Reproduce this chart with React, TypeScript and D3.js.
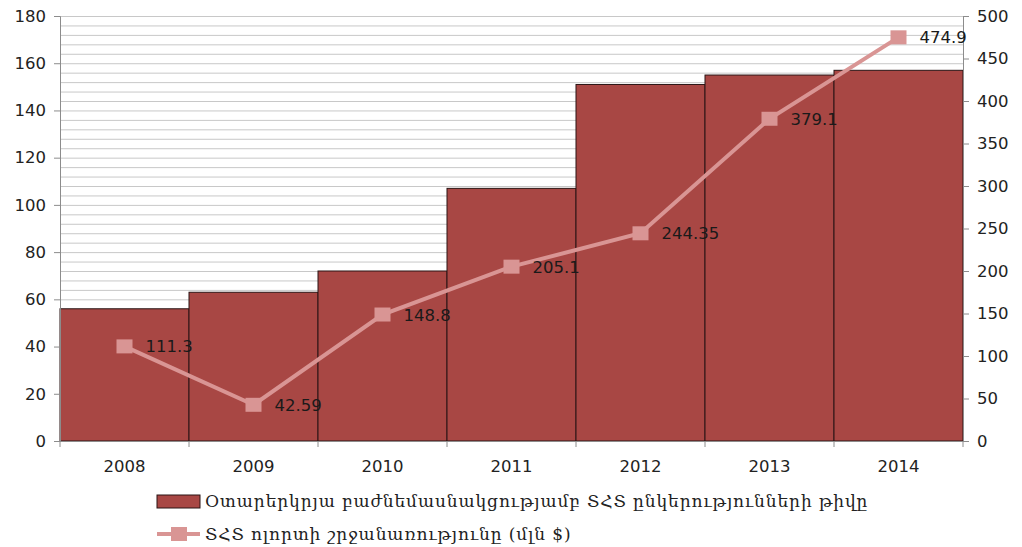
import React, { useRef, useEffect } from 'react';
import * as d3 from 'd3';

const years = ['2008', '2009', '2010', '2011', '2012', '2013', '2014'];
const companies = [56, 63, 72, 107, 151, 155, 157];
const turnover = [111.3, 42.59, 148.8, 205.1, 244.35, 379.1, 474.9];
const turnoverLabels = ['111.3', '42.59', '148.8', '205.1', '244.35', '379.1', '474.9'];
const leftTicks = [0, 20, 40, 60, 80, 100, 120, 140, 160, 180];
const rightTicks = [0, 50, 100, 150, 200, 250, 300, 350, 400, 450, 500];
const legendBar = 'Օտարերկրյա բաժնեմասնակցությամբ ՏՀՏ ընկերությունների թիվը';
const legendLine = 'ՏՀՏ ոլորտի շրջանառությունը (մլն $)';

const W = 1022, H = 547;
const BAR = '#A84744';
const LINE = '#D99594';

export default function App() {
  const ref = useRef<SVGSVGElement>(null);

  useEffect(() => {
    if (!ref.current) return;
    const svg = d3.select(ref.current);
    svg.selectAll('*').remove();

    const left = 60, right = 963, top = 16, bottom = 441;
    const x = d3.scaleBand().domain(years).range([left, right]).padding(0);
    const y = d3.scaleLinear().domain([0, 180]).range([bottom, top]);
    const y2 = d3.scaleLinear().domain([0, 500]).range([bottom, top]);
    const font = '"DejaVu Sans", Verdana, sans-serif';

    // gridlines every 4
    const grid = d3.range(4, 181, 4);
    svg.append('g').selectAll('line').data(grid).join('line')
      .attr('x1', left).attr('x2', right)
      .attr('y1', d => y(d) + 0.5).attr('y2', d => y(d) + 0.5)
      .attr('stroke', '#c8c8c8').attr('stroke-width', 1);

    // bars
    svg.append('g').selectAll('rect').data(companies).join('rect')
      .attr('x', (_, i) => x(years[i])!)
      .attr('width', x.bandwidth())
      .attr('y', d => y(d))
      .attr('height', d => bottom - y(d))
      .attr('fill', BAR)
      .attr('stroke', '#2a1515').attr('stroke-width', 1);

    // axes
    const axColor = '#8c8c8c';
    const gl = svg.append('g').attr('transform', `translate(${left},0)`)
      .call(d3.axisLeft(y).tickValues(leftTicks).tickSize(6).tickPadding(8));
    const gr = svg.append('g').attr('transform', `translate(${right},0)`)
      .call(d3.axisRight(y2).tickValues(rightTicks).tickSize(6).tickPadding(8));
    const gb = svg.append('g').attr('transform', `translate(0,${bottom})`)
      .call(d3.axisBottom(x).tickSize(0).tickPadding(19));
    [gl, gr, gb].forEach(g => {
      g.selectAll('.domain').attr('stroke', axColor);
      g.selectAll('.tick line').attr('stroke', axColor);
      g.selectAll('text').style('font-family', font).style('font-size', '16.5px').attr('fill', '#222');
    });
    gb.selectAll('.domain').attr('d', `M${left},0.5H${right}`);
    // category boundary ticks
    svg.append('g').selectAll('line').data(d3.range(years.length + 1)).join('line')
      .attr('x1', i => left + i * x.bandwidth()).attr('x2', i => left + i * x.bandwidth())
      .attr('y1', bottom).attr('y2', bottom + 6)
      .attr('stroke', axColor);

    // line
    const cx = (i: number) => x(years[i])! + x.bandwidth() / 2;
    const line = d3.line<number>().x((_, i) => cx(i)).y(d => y2(d));
    svg.append('path').datum(turnover)
      .attr('d', line).attr('fill', 'none')
      .attr('stroke', LINE).attr('stroke-width', 4);
    svg.append('g').selectAll('rect').data(turnover).join('rect')
      .attr('x', (_, i) => cx(i) - 8).attr('y', d => y2(d) - 7)
      .attr('width', 16).attr('height', 14).attr('fill', LINE);
    svg.append('g').selectAll('text').data(turnover).join('text')
      .attr('x', (_, i) => cx(i) + 21).attr('y', d => y2(d) + 6)
      .style('font-family', font).style('font-size', '16.5px').attr('fill', '#1a1a1a')
      .text((_, i) => turnoverLabels[i]);

    // legend
    const lf = '"DejaVu Serif", serif';
    svg.append('rect').attr('x', 157).attr('y', 495).attr('width', 43).attr('height', 13)
      .attr('fill', BAR).attr('stroke', '#2a1515');
    svg.append('text').attr('x', 205).attr('y', 507).text(legendBar)
      .style('font-family', lf).style('font-size', '17px').style('letter-spacing', '0.9px').attr('fill', '#222');
    svg.append('line').attr('x1', 157).attr('x2', 200).attr('y1', 534).attr('y2', 534)
      .attr('stroke', LINE).attr('stroke-width', 4);
    svg.append('rect').attr('x', 171).attr('y', 527).attr('width', 16).attr('height', 14).attr('fill', LINE);
    svg.append('text').attr('x', 205).attr('y', 540).text(legendLine)
      .style('font-family', lf).style('font-size', '17px').style('letter-spacing', '0.9px').attr('fill', '#222');
  }, []);

  return (
    <svg ref={ref} width={W} height={H}
      style={{ position: 'absolute', left: 0, top: 0, background: '#fff' }} />
  );
}
